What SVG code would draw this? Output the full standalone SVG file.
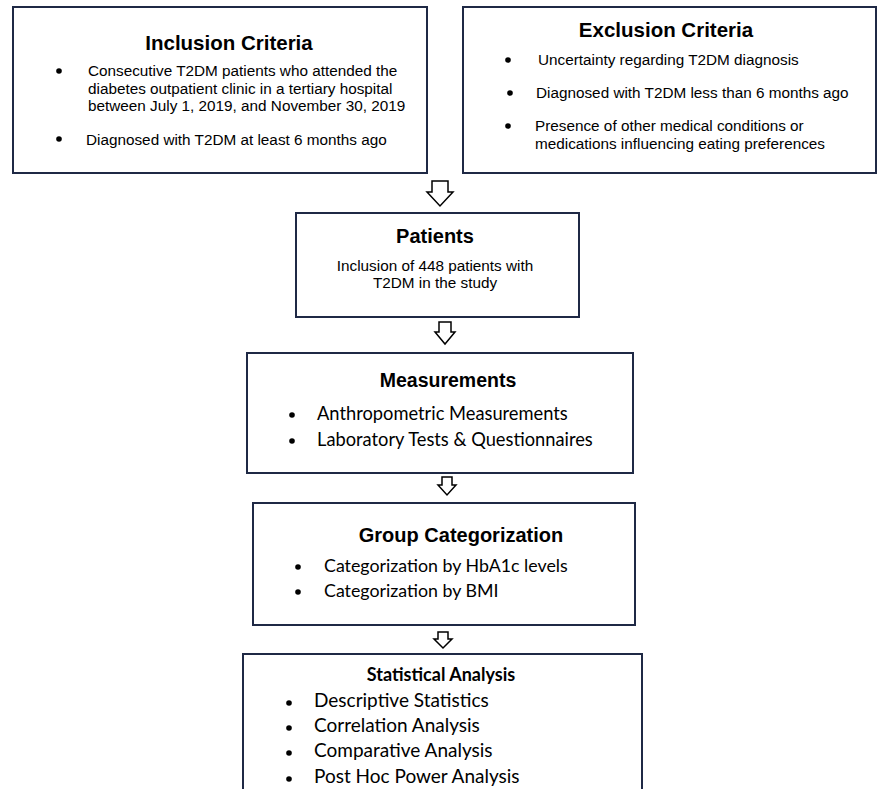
<svg xmlns="http://www.w3.org/2000/svg" width="877" height="789" viewBox="0 0 877 789">
<style>
.box{fill:#fff;stroke:#1f2945;stroke-width:2}
.arr{fill:#fff;stroke:#000;stroke-width:1.5;stroke-linejoin:miter}
.ta{font-family:"Liberation Sans",Arial,sans-serif;fill:#000;font-size:15.3px}
.tb{font-family:"Liberation Sans",Arial,sans-serif;font-weight:bold;fill:#000;text-anchor:middle}
.tc{font-family:Lato,"Noto Sans",sans-serif;fill:#000}
.tcb{font-family:Lato,"Noto Sans",sans-serif;font-weight:bold;fill:#000;text-anchor:middle}
.dot{fill:#000}
</style>
<rect width="877" height="789" fill="#fff"/>
<g id="inclusion">
<rect class="box" x="13" y="7" width="414" height="166"/>
<text class="tb" x="229" y="50" font-size="20.5">Inclusion Criteria</text>
<circle class="dot" cx="59" cy="71" r="2.8"/>
<text class="ta" x="88" y="76">Consecutive T2DM patients who attended the</text>
<text class="ta" x="88" y="93.5">diabetes outpatient clinic in a tertiary hospital</text>
<text class="ta" x="88" y="111">between July 1, 2019, and November 30, 2019</text>
<circle class="dot" cx="59" cy="139" r="2.8"/>
<text class="ta" x="86" y="145">Diagnosed with T2DM at least 6 months ago</text>
</g>
<g id="exclusion">
<rect class="box" x="463" y="7" width="413" height="166"/>
<text class="tb" x="666" y="37" font-size="20.5">Exclusion Criteria</text>
<circle class="dot" cx="508" cy="60" r="2.8"/>
<text class="ta" x="538" y="65">Uncertainty regarding T2DM diagnosis</text>
<circle class="dot" cx="510" cy="93" r="2.8"/>
<text class="ta" x="536" y="98">Diagnosed with T2DM less than 6 months ago</text>
<circle class="dot" cx="508" cy="126" r="2.8"/>
<text class="ta" x="535" y="131">Presence of other medical conditions or</text>
<text class="ta" x="535" y="148.5">medications influencing eating preferences</text>
</g>
<g id="patients">
<rect class="box" x="296" y="213" width="283" height="104"/>
<text class="tb" x="435" y="243" font-size="20">Patients</text>
<text class="ta" x="435" y="271" text-anchor="middle">Inclusion of 448 patients with</text>
<text class="ta" x="435" y="288" text-anchor="middle">T2DM in the study</text>
</g>
<g id="measurements">
<rect class="box" x="247" y="353" width="386" height="120"/>
<text class="tb" x="448" y="387" font-size="19.5">Measurements</text>
<circle class="dot" cx="292" cy="415" r="2.8"/>
<text class="tc" x="317" y="420" font-size="18.3">Anthropometric Measurements</text>
<circle class="dot" cx="292" cy="441" r="2.8"/>
<text class="tc" x="317" y="446" font-size="18.3">Laboratory Tests &amp; Questionnaires</text>
</g>
<g id="group">
<rect class="box" x="253" y="503" width="382" height="122"/>
<text class="tb" x="461" y="542" font-size="20">Group Categorization</text>
<circle class="dot" cx="298" cy="567" r="2.8"/>
<text class="tc" x="324" y="572" font-size="17.8">Categorization by HbA1c levels</text>
<circle class="dot" cx="298" cy="592" r="2.8"/>
<text class="tc" x="324" y="597" font-size="17.8">Categorization by BMI</text>
</g>
<g id="statistics">
<rect class="box" x="243" y="654" width="399" height="150"/>
<text class="tcb" x="441" y="681" font-size="18">Statistical Analysis</text>
<circle class="dot" cx="289" cy="703" r="2.8"/>
<text class="tc" x="314" y="707" font-size="19">Descriptive Statistics</text>
<circle class="dot" cx="289" cy="728" r="2.8"/>
<text class="tc" x="314" y="732" font-size="19">Correlation Analysis</text>
<circle class="dot" cx="289" cy="753" r="2.8"/>
<text class="tc" x="314" y="757" font-size="19">Comparative Analysis</text>
<circle class="dot" cx="289" cy="779" r="2.8"/>
<text class="tc" x="314" y="783" font-size="19">Post Hoc Power Analysis</text>
</g>
<g id="connectors">
<path class="arr" d="M432 181 H448 V192 H453 L440 206 L427 192 H432 Z"/>
<path class="arr" d="M439 322 H451 V332 H455 L445 344 L435 332 H439 Z"/>
<path class="arr" d="M442 477 H452 V485 H456 L447 495 L438 485 H442 Z"/>
<path class="arr" d="M438 632 H448 V639 H452 L443 648 L434 639 H438 Z"/>
</g>
</svg>
